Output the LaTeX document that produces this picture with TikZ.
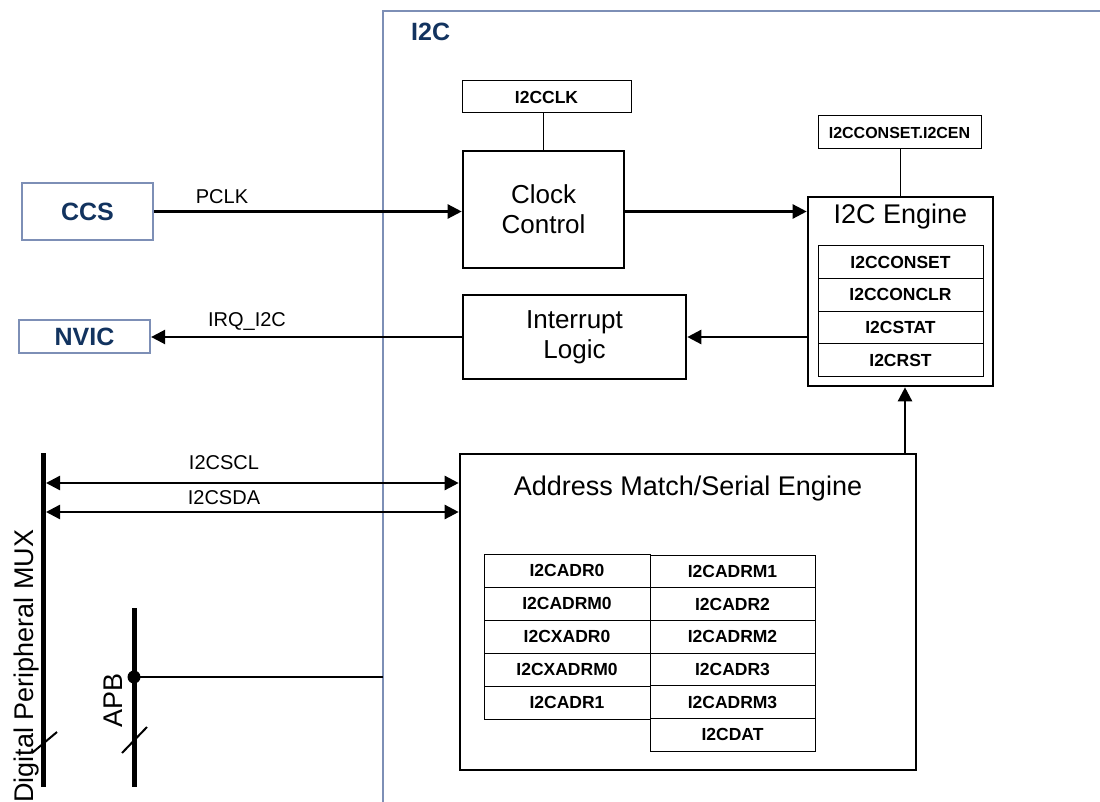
\documentclass[tikz,border=0pt]{standalone}
\usepackage{fontspec}
\setmainfont{Liberation Sans}
\usetikzlibrary{arrows.meta,calc}
\definecolor{framecol}{HTML}{7D8FB6}
\definecolor{navy}{HTML}{12335F}
\tikzset{
  box/.style={draw, line width=2.6pt, inner sep=0pt, align=center, font=\fontsize{26}{30}\selectfont},
  bluebox/.style={draw=framecol, line width=2.2pt, inner sep=0pt, text=navy, font=\fontsize{25}{28}\selectfont\bfseries},
  reg/.style={draw, line width=1pt, inner sep=0pt, font=\fontsize{17.5}{20}\selectfont\bfseries},
  sig/.style={line width=2.4pt, -{Triangle[length=14pt,width=14pt]}},
  dsig/.style={line width=2.4pt, {Triangle[length=14pt,width=14pt]}-{Triangle[length=14pt,width=14pt]}},
  lbl/.style={inner sep=0pt, font=\fontsize{20}{24}\selectfont},
  bus/.style={line width=5pt},
  thin/.style={line width=1.2pt}
}
\begin{document}
\begin{tikzpicture}[x=1pt,y=-1pt]
\useasboundingbox (0,0) rectangle (1100,802);
\fill[white] (0,0) rectangle (1100,802);

% I2C frame
\coordinate (fbot) at (383,802);
\coordinate (fcorner) at (383,11);
\coordinate (fright) at (1100,11);
\draw[framecol, line width=2.2pt] (fbot) -- (fcorner) -- (fright);
\node[anchor=west, inner sep=0pt, text=navy, font=\fontsize{25}{28}\selectfont\bfseries] (i2clbl) at (411,32) {I2C};

% outer blocks
\node[bluebox, minimum width=131pt, minimum height=57pt] (ccs) at (87.5,211.5) {CCS};
\node[bluebox, minimum width=131pt, minimum height=33pt] (nvic) at (84.5,336.5) {NVIC};

% clock
\node[reg, minimum width=169pt, minimum height=32pt] (clk) at (546.5,97) {I2CCLK};
\node[box, minimum width=161pt, minimum height=117pt] (cc) at (543.5,209.5) {Clock\\Control};
\draw[thin] (cc.north) -- (cc.north |- clk.south);

% engine
\node[reg, font=\fontsize{16}{19}\selectfont\bfseries, minimum width=163pt, minimum height=33pt] (en) at (899.5,132.5) {I2CCONSET.I2CEN};
\node[draw, line width=2.6pt, inner sep=0pt, minimum width=185pt, minimum height=189pt] (eng) at (900.5,291.5) {};
\node[inner sep=0pt, font=\fontsize{27}{30}\selectfont] (engt) at (900.5,217) {I2C Engine};
\draw[thin] (eng.north) -- (eng.north |- en.south);
\node[reg, minimum width=165pt, minimum height=32.75pt] (r1) at (900.5,262) {I2CCONSET};
\node[reg, minimum width=165pt, minimum height=32.75pt] (r2) at (900.5,294.75) {I2CCONCLR};
\node[reg, minimum width=165pt, minimum height=32.75pt] (r3) at (900.5,327.5) {I2CSTAT};
\node[reg, minimum width=165pt, minimum height=32.75pt] (r4) at (900.5,360.25) {I2CRST};

% interrupt
\node[box, minimum width=223pt, minimum height=84pt] (il) at (574.5,337) {Interrupt\\Logic};

% address match
\node[draw, line width=2.6pt, inner sep=0pt, minimum width=456pt, minimum height=316pt] (am) at (688,612) {};
\node[inner sep=0pt, font=\fontsize{27}{30}\selectfont] (amt) at (688,489) {Address Match/Serial Engine};

\node[reg, minimum width=166pt, minimum height=33pt] (a1) at (567,570.5) {I2CADR0};
\node[reg, minimum width=166pt, minimum height=33pt] (a2) at (567,603.5) {I2CADRM0};
\node[reg, minimum width=166pt, minimum height=33pt] (a3) at (567,636.5) {I2CXADR0};
\node[reg, minimum width=166pt, minimum height=33pt] (a4) at (567,669.5) {I2CXADRM0};
\node[reg, minimum width=166pt, minimum height=33pt] (a5) at (567,702.5) {I2CADR1};
\node[reg, minimum width=165pt, minimum height=32.7pt] (b1) at (732.5,571.35) {I2CADRM1};
\node[reg, minimum width=165pt, minimum height=32.7pt] (b2) at (732.5,604.05) {I2CADR2};
\node[reg, minimum width=165pt, minimum height=32.7pt] (b3) at (732.5,636.75) {I2CADRM2};
\node[reg, minimum width=165pt, minimum height=32.7pt] (b4) at (732.5,669.45) {I2CADR3};
\node[reg, minimum width=165pt, minimum height=32.7pt] (b5) at (732.5,702.15) {I2CADRM3};
\node[reg, minimum width=165pt, minimum height=32.7pt] (b6) at (732.5,734.85) {I2CDAT};

% signals
\draw[sig] (ccs.east) -- (ccs.east -| cc.west);
\node[lbl] (pclk) at (222,197) {PCLK};
\draw[sig] (cc.east |- ccs.east) -- (ccs.east -| eng.west);
\draw[sig] (eng.west |- il.east) -- (il.east);
\draw[sig] (il.west) -- (il.west -| nvic.east);
\node[lbl] (irq) at (247,322) {IRQ\_I2C};
\coordinate (upx) at (905,0);
\draw[sig] (upx |- am.north) -- (upx |- eng.south);

% MUX bus
\coordinate (muxtop) at (43,453);
\coordinate (muxbot) at (43,787);
\draw[bus] (muxtop) -- (muxbot);
\coordinate (sclL) at (46,483);
\coordinate (sdaL) at (46,512);
\draw[dsig] (sclL) -- (sclL -| am.west);
\draw[dsig] (sdaL) -- (sdaL -| am.west);
\node[lbl] (scl) at (224,463) {I2CSCL};
\node[lbl] (sda) at (224,498) {I2CSDA};
\coordinate (ms1) at (32,753);
\coordinate (ms2) at (57,732);
\draw[line width=2pt] (ms1) -- (ms2);
\node[rotate=90, anchor=base west, inner sep=0pt, font=\fontsize{27}{30}\selectfont] (muxlbl) at (33,803) {Digital Peripheral MUX};

% APB bus
\coordinate (apbtop) at (134,608);
\coordinate (apbbot) at (134,787);
\draw[bus] (apbtop) -- (apbbot);
\coordinate (apbj) at (134,677);
\fill (apbj) circle (6.5pt);
\draw[line width=2pt] (apbj) -- (apbj -| fcorner);
\coordinate (as1) at (122,753);
\coordinate (as2) at (147,727);
\draw[line width=2pt] (as1) -- (as2);
\node[rotate=90, anchor=base west, inner sep=0pt, font=\fontsize{27}{30}\selectfont] (apblbl) at (122,728) {APB};
\end{tikzpicture}
\end{document}
